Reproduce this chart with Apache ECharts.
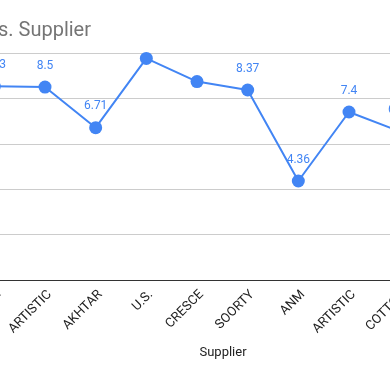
<!DOCTYPE html>
<html>
<head>
<meta charset="utf-8">
<script src="https://cdn.jsdelivr.net/npm/echarts@6/dist/echarts.min.js"></script>
<style>
html,body{margin:0;padding:0;overflow:hidden;width:390px;height:371px;background:#fff;}
#c{position:absolute;left:-100px;top:0;width:600px;height:371px;}
</style>
</head>
<body>
<div id="c"></div>
<script>
// Data (the chart is a crop of a wider chart)
const categories = ['SAPPHIRE', 'ARTISTIC', 'AKHTAR', 'U.S.', 'CRESCE', 'SOORTY', 'ANM', 'ARTISTIC', 'COTTON'];
const values = [8.53, 8.5, 6.71, 9.76, 8.74, 8.37, 4.36, 7.4, 6.55];
const labelShown = [true, true, true, false, false, true, true, true, true];
const yTicks = [0, 2, 4, 6, 8, 10];
const titleText = 'Rating vs. Supplier';
const xAxisTitle = 'Supplier';

const FONT = 'Roboto, "Noto Sans", sans-serif';
const chart = echarts.init(document.getElementById('c'), null, {renderer: 'canvas'});
const seriesData = values.map((v, i) => ({
  value: v,
  label: {show: labelShown[i]}
}));
chart.setOption({
  animation: false,
  textStyle: {fontFamily: FONT},
  title: {
    text: titleText,
    right: 409,
    top: 21,
    padding: 0,
    textStyle: {fontFamily: FONT, fontSize: 20, fontWeight: 'normal', color: '#757575'}
  },
  grid: {
    left: 69, top: 53, height: 227, width: 456,
    containLabel: false, outerBoundsMode: 'none'
  },
  xAxis: {
    type: 'category',
    data: categories,
    boundaryGap: true,
    axisLine: {lineStyle: {color: '#333', width: 1}},
    axisTick: {show: false},
    axisLabel: {interval: 0, rotate: 45, fontSize: 13, color: '#222', fontFamily: FONT,
      margin: 8, verticalAlign: 'top'}
  },
  yAxis: {
    type: 'value',
    min: yTicks[0],
    max: yTicks[yTicks.length - 1],
    interval: yTicks[1] - yTicks[0],
    axisLine: {show: false},
    axisTick: {show: false},
    axisLabel: {show: false},
    splitLine: {lineStyle: {color: '#cccccc', width: 1}}
  },
  series: [{
    type: 'line',
    data: seriesData,
    symbol: 'circle',
    symbolSize: 13,
    itemStyle: {color: '#4285f4'},
    lineStyle: {color: '#4285f4', width: 2},
    label: {
      show: true, position: 'top', distance: 9,
      fontSize: 12, color: '#4285f4', fontFamily: FONT
    }
  }],
  graphic: [{
    type: 'text',
    x: 323, y: 353,
    style: {text: xAxisTitle, fontSize: 13, fill: '#222', fontFamily: FONT,
      align: 'center', verticalAlign: 'middle'}
  }]
});
</script>
</body>
</html>
